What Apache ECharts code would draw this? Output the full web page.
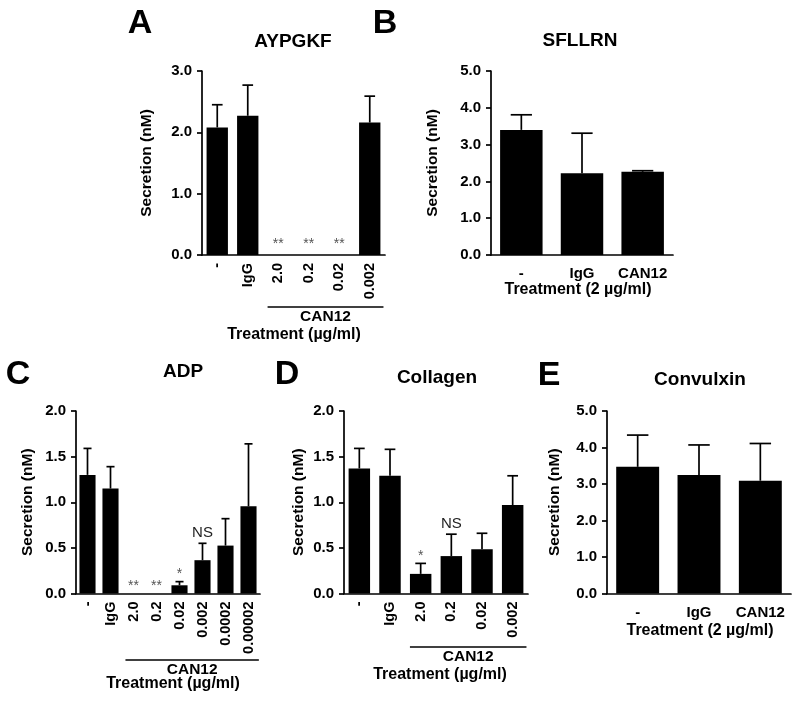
<!DOCTYPE html>
<html><head><meta charset="utf-8">
<script src="https://cdn.jsdelivr.net/npm/echarts@6/dist/echarts.min.js"></script>
<style>html,body{margin:0;padding:0;background:#fff}#c{width:800px;height:702px}</style>
</head><body><div id="c"></div>
<script>
// ---- data ----
const catsA = ['-', 'IgG', '2.0', '0.2', '0.02', '0.002'];
const meanA = [2.08, 2.27, 0, 0, 0, 2.16];
const errA  = [0.37, 0.50, 0, 0, 0, 0.43];
const annA  = ['', '', '**', '**', '**', ''];

const catsB = ['-', 'IgG', 'CAN12'];
const meanB = [3.40, 2.22, 2.26];
const errB  = [0.41, 1.09, 0.03];
const annB  = ['', '', ''];

const catsC = ['-', 'IgG', '2.0', '0.2', '0.02', '0.002', '0.0002', '0.00002'];
const meanC = [1.30, 1.15, 0, 0, 0.09, 0.365, 0.525, 0.955];
const errC  = [0.29, 0.24, 0, 0, 0.04, 0.185, 0.295, 0.685];
const annC  = ['', '', '**', '**', '*', 'NS', '', ''];

const catsD = ['-', 'IgG', '2.0', '0.2', '0.02', '0.002'];
const meanD = [1.37, 1.29, 0.215, 0.41, 0.485, 0.97];
const errD  = [0.22, 0.29, 0.115, 0.24, 0.175, 0.32];
const annD  = ['', '', '*', 'NS', '', ''];

const catsE = ['-', 'IgG', 'CAN12'];
const meanE = [3.47, 3.25, 3.09];
const errE  = [0.87, 0.82, 1.02];
const annE  = ['', '', ''];

const yMaxA = 3, yStepA = 1;
const yMaxB = 5, yStepB = 1;
const yMaxC = 2, yStepC = 0.5;
const yMaxD = 2, yStepD = 0.5;
const yMaxE = 5, yStepE = 1;

// ---- layout ----
const FONT = '"Liberation Sans", Arial, Helvetica, sans-serif';
const panels = [
  {cats: catsA, mean: meanA, err: errA, ann: annA, max: yMaxA, step: yStepA,
   grid: {left: 202, top: 71, width: 183, height: 184}, rotate: 90, lm: 8, nameGap: 47, starGap: 4},
  {cats: catsB, mean: meanB, err: errB, ann: annB, max: yMaxB, step: yStepB,
   grid: {left: 491, top: 71, width: 182, height: 184}, rotate: 0, lm: 11, nameGap: 50, starGap: 0},
  {cats: catsC, mean: meanC, err: errC, ann: annC, max: yMaxC, step: yStepC,
   grid: {left: 76, top: 411, width: 184, height: 182.5}, rotate: 90, lm: 8, nameGap: 40, starGap: 0},
  {cats: catsD, mean: meanD, err: errD, ann: annD, max: yMaxD, step: yStepD,
   grid: {left: 344, top: 411, width: 184, height: 182.5}, rotate: 90, lm: 8, nameGap: 37, starGap: 0},
  {cats: catsE, mean: meanE, err: errE, ann: annE, max: yMaxE, step: yStepE,
   grid: {left: 607, top: 411, width: 184, height: 182.5}, rotate: 0, lm: 12, nameGap: 44, starGap: 0}
];

const grids = [], xAxes = [], yAxes = [], series = [];
panels.forEach((p, k) => {
  grids.push(Object.assign({containLabel: false}, p.grid));
  xAxes.push({
    type: 'category', gridIndex: k, data: p.cats,
    axisLine: {lineStyle: {color: '#000', width: 1.7}},
    axisTick: {alignWithLabel: true, length: 5, lineStyle: {color: '#000', width: 1.7}},
    axisLabel: {rotate: p.rotate, margin: p.lm, interval: 0, color: '#000',
      fontWeight: 'bold', fontSize: p.rotate ? 14.5 : 15, fontFamily: FONT}
  });
  yAxes.push({
    type: 'value', gridIndex: k, min: 0, max: p.max, interval: p.step,
    axisLine: {show: true, lineStyle: {color: '#000', width: 1.7}},
    axisTick: {show: true, length: 5, lineStyle: {color: '#000', width: 1.7}},
    axisLabel: {color: '#000', fontWeight: 'bold', fontSize: 15, fontFamily: FONT, margin: 10,
      formatter: v => v.toFixed(1)},
    splitLine: {show: false},
    name: 'Secretion (nM)', nameLocation: 'middle', nameGap: p.nameGap,
    nameTextStyle: {color: '#000', fontWeight: 'bold', fontSize: 15.5, fontFamily: FONT}
  });
  series.push({
    type: 'bar', xAxisIndex: k, yAxisIndex: k, barWidth: '70%',
    itemStyle: {color: '#000'}, data: p.mean, z: 2, silent: true
  });
  series.push({
    type: 'custom', xAxisIndex: k, yAxisIndex: k, z: 3, silent: true,
    data: p.mean.map((m, i) => [i, m, p.err[i]]),
    encode: {x: 0, y: 1},
    renderItem: function (params, api) {
      const x = api.value(0), m = api.value(1), e = api.value(2);
      if (!(e > 0)) return null;
      const p0 = api.coord([x, m]), p1 = api.coord([x, m + e]);
      const hw = api.size([1, 0])[0] * 0.7 * 0.25;
      const st = {stroke: '#000', lineWidth: 1.7};
      return {type: 'group', children: [
        {type: 'line', shape: {x1: p0[0], y1: p0[1], x2: p1[0], y2: p1[1]}, style: st},
        {type: 'line', shape: {x1: p1[0] - hw, y1: p1[1], x2: p1[0] + hw, y2: p1[1]}, style: st}
      ]};
    }
  });
  series.push({
    type: 'custom', xAxisIndex: k, yAxisIndex: k, z: 4, silent: true,
    data: p.mean.map((m, i) => [i, m + p.err[i]]),
    encode: {x: 0, y: 1},
    renderItem: function (params, api) {
      const t = p.ann[params.dataIndex];
      if (!t) return null;
      const pt = api.coord([api.value(0), api.value(1)]);
      const isNS = t === 'NS';
      return {type: 'text', x: pt[0], y: pt[1] - (isNS ? 3 : p.starGap),
        style: {text: t, fill: isNS ? '#222' : '#555', font: (isNS ? 15 : 14) + 'px ' + FONT,
          textAlign: 'center', textVerticalAlign: 'bottom'}};
    }
  });
});

function txt(t, x, y, size, weight) {
  return {type: 'text', x: x, y: y, silent: true,
    style: {text: t, fill: '#000', font: (weight || 'bold') + ' ' + size + 'px ' + FONT,
      textAlign: 'center', textVerticalAlign: 'middle'}};
}

const staticGraphics = [
  txt('A', 140, 24, 34), txt('B', 385, 24, 34),
  txt('C', 18, 375, 34), txt('D', 287, 375, 34), txt('E', 549, 376, 34),
  txt('AYPGKF', 293, 42, 19), txt('SFLLRN', 580, 41, 19),
  txt('ADP', 183, 372, 19), txt('Collagen', 437, 378, 19), txt('Convulxin', 700, 380, 19),
  txt('Treatment (\u00b5g/ml)', 294, 335, 16),
  txt('Treatment (2 \u00b5g/ml)', 578, 290, 16),
  txt('Treatment (\u00b5g/ml)', 173, 684, 16),
  txt('Treatment (\u00b5g/ml)', 440, 675, 16),
  txt('Treatment (2 \u00b5g/ml)', 700, 631, 16)
];

const chart = echarts.init(document.getElementById('c'), null, {renderer: 'canvas'});
chart.setOption({
  animation: false, backgroundColor: '#fff',
  grid: grids, xAxis: xAxes, yAxis: yAxes, series: series,
  graphic: staticGraphics
});

// CAN12 brackets, derived from the category axes
const brackets = [
  {k: 0, from: 2, lineY: 307, textY: 317},
  {k: 2, from: 2, lineY: 660, textY: 670},
  {k: 3, from: 2, lineY: 647, textY: 657}
];
const extra = [];
brackets.forEach(b => {
  const cats = panels[b.k].cats;
  const c0 = chart.convertToPixel({xAxisIndex: b.k}, cats[b.from]);
  const c1 = chart.convertToPixel({xAxisIndex: b.k}, cats[cats.length - 1]);
  const band = panels[b.k].grid.width / cats.length;
  const x1 = c0 - 0.35 * band, x2 = c1 + 0.45 * band;
  extra.push({type: 'line', silent: true, shape: {x1: x1, y1: b.lineY, x2: x2, y2: b.lineY},
    style: {stroke: '#000', lineWidth: 1.7}});
  extra.push(txt('CAN12', (x1 + x2) / 2, b.textY, 15.5));
});
chart.setOption({graphic: staticGraphics.concat(extra)});
</script>
</body></html>
